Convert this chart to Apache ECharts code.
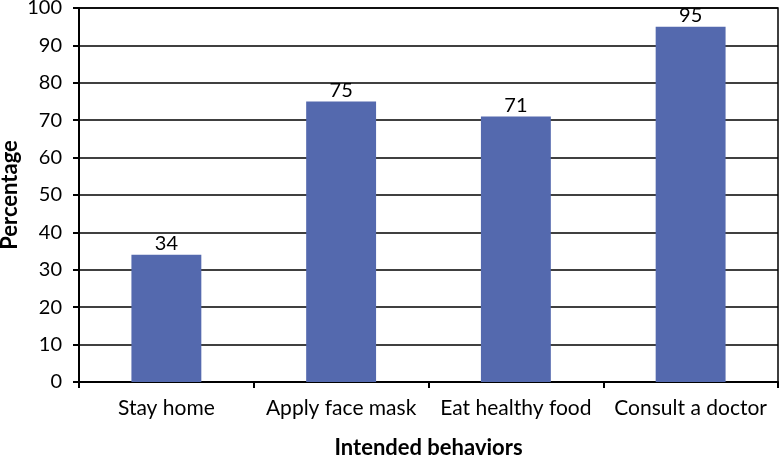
<!DOCTYPE html>
<html>
<head>
<meta charset="utf-8">
<script src="https://cdn.jsdelivr.net/npm/echarts@6/dist/echarts.min.js"></script>
<style>
    html, body { margin: 0; padding: 0; background: #fff; }
    #chart { width: 780px; height: 457px; }
</style>
</head>
<body>
<div id="chart"></div>
<script>
// intended behaviors and percentages
var categories = ['Stay home', 'Apply face mask', 'Eat healthy food', 'Consult a doctor'];
var percentages = [34, 75, 71, 95];
var yMin = 0, yMax = 100, yStep = 10;

var font = 'Lato';
var chart = echarts.init(document.getElementById('chart'));
chart.setOption({
    animation: false,
    grid: {
        left: 79, right: 2, top: 8, bottom: 75,
        outerBoundsMode: 'none',
        show: true, borderColor: '#000', borderWidth: 1.5
    },
    xAxis: {
        type: 'category',
        data: categories,
        name: 'Intended behaviors',
        nameLocation: 'middle',
        nameGap: 55,
        nameTextStyle: { fontFamily: font, fontSize: 22, fontWeight: 'bold', color: '#000' },
        axisLine: { lineStyle: { color: '#000', width: 2 } },
        axisTick: { show: true, length: 6, lineStyle: { color: '#000', width: 2 } },
        axisLabel: { interval: 0, fontFamily: font, fontSize: 21, color: '#000', margin: 16 }
    },
    yAxis: {
        type: 'value',
        min: yMin, max: yMax, interval: yStep,
        name: 'Percentage',
        nameLocation: 'middle',
        nameGap: 58,
        nameMoveOverlap: false,
        nameTextStyle: { fontFamily: font, fontSize: 22, fontWeight: 'bold', color: '#000' },
        axisLine: { show: true, lineStyle: { color: '#000', width: 2 } },
        axisTick: { show: true, length: 6, lineStyle: { color: '#000', width: 2 } },
        axisLabel: { fontFamily: font, fontSize: 20, color: '#000', margin: 17 },
        splitLine: { lineStyle: { color: '#000', width: 1.5 } }
    },
    series: [{
        type: 'bar',
        data: percentages,
        barWidth: '40%',
        itemStyle: { color: '#5469AE' },
        label: {
            show: true, position: 'top', distance: 1,
            fontFamily: font, fontSize: 20, color: '#000'
        }
    }]
});
</script>
</body>
</html>
